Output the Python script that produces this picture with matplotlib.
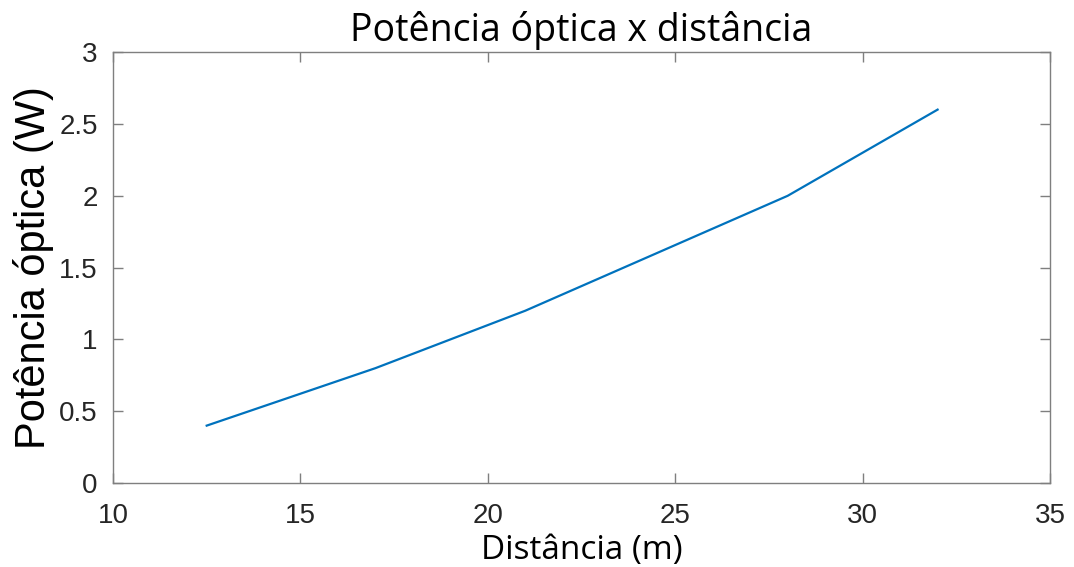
import matplotlib
matplotlib.use("Agg")
import matplotlib.pyplot as plt

# === DATA ====================================================================
distancia = [12.5, 17, 21, 28, 32]
potencia = [0.4, 0.8, 1.2, 2.0, 2.6]

x_ticks = [10, 15, 20, 25, 30, 35]
y_ticks = [0, 0.5, 1, 1.5, 2, 2.5, 3]
y_ticklabels = ["0", "0.5", "1", "1.5", "2", "2.5", "3"]

# === PLOT ====================================================================
fig = plt.figure(figsize=(10.74, 5.67), dpi=100)
ax = fig.add_axes([0.1052, 0.148, 0.8725, 0.760])

ax.plot(distancia, potencia, color="#0072BD", linewidth=1.6)

ax.set_xlim(10, 35)
ax.set_ylim(0, 3)
ax.set_xticks(x_ticks)
ax.set_yticks(y_ticks)
ax.set_yticklabels(y_ticklabels)

for spine in ax.spines.values():
    spine.set_color("#7f7f7f")
    spine.set_linewidth(1.0)
ax.tick_params(direction="in", length=7, width=1.0, color="#7f7f7f",
               top=True, right=True, labelsize=20, labelcolor="#262626")
ax.tick_params(axis="x", pad=14)
ax.tick_params(axis="y", pad=11)
for lab in ax.get_xticklabels() + ax.get_yticklabels():
    lab.set_family("Liberation Sans")

ax.set_title("Potência óptica x distância", fontsize=27, family="Open Sans", pad=8)
ax.set_xlabel("Distância (m)", fontsize=24, family="Open Sans", labelpad=4)
ax.set_ylabel("Potência óptica (W)", fontsize=30, family="Liberation Sans", labelpad=4)

fig.savefig("out.png", dpi=100)
